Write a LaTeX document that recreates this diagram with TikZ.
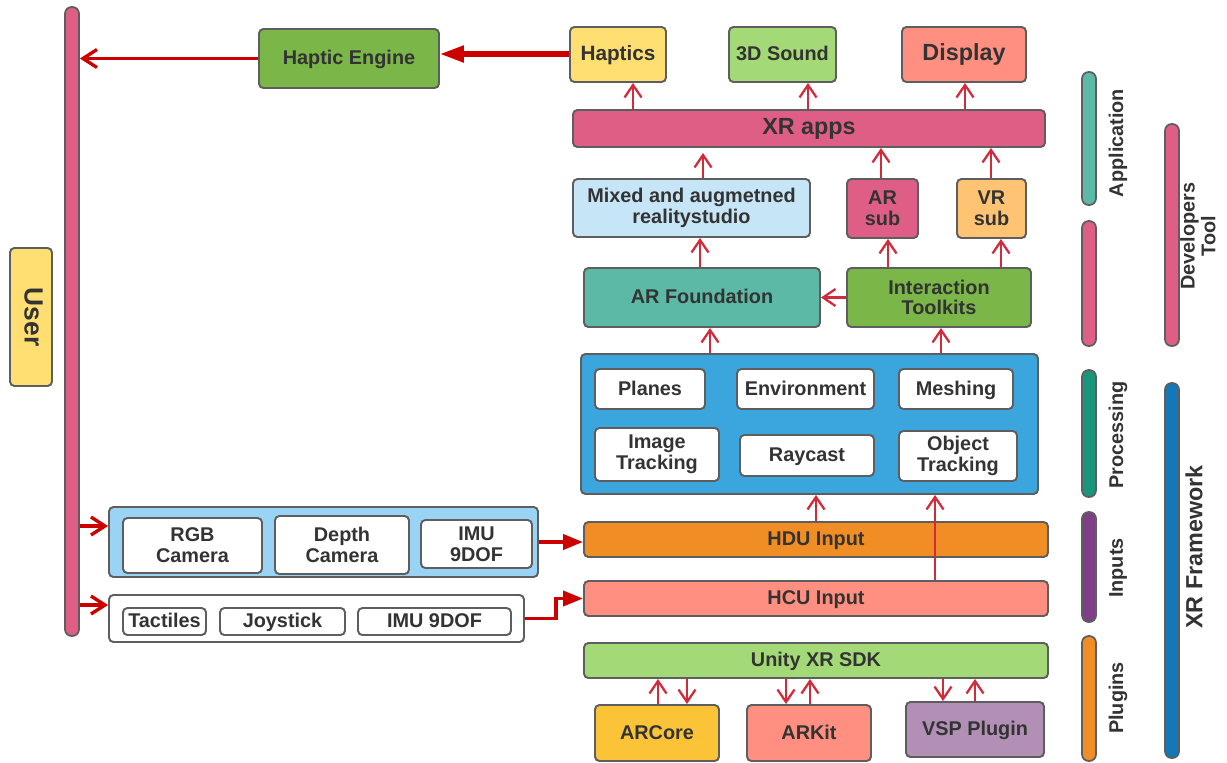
\documentclass[tikz,border=0pt]{standalone}
\usepackage{fontspec}
\setmainfont{Liberation Sans}
\usepackage{tikz}
\usetikzlibrary{positioning, arrows.meta, calc}

\definecolor{edgegrey}{HTML}{5E5E5E}
\definecolor{textgrey}{HTML}{333333}
\definecolor{flowred}{HTML}{D22C3C}
\definecolor{feedred}{HTML}{CC0000}
\definecolor{xrpink}{HTML}{DF5E85}
\definecolor{hapyellow}{HTML}{FFDF71}
\definecolor{soundgreen}{HTML}{A3D977}
\definecolor{salmon}{HTML}{FF8F80}
\definecolor{mixblue}{HTML}{C6E5F7}
\definecolor{vrorange}{HTML}{FFC374}
\definecolor{arteal}{HTML}{5CB9A6}
\definecolor{kitgreen}{HTML}{7AB648}
\definecolor{procblue}{HTML}{3AA6DD}
\definecolor{hduorange}{HTML}{F08D25}
\definecolor{coreyellow}{HTML}{FBC337}
\definecolor{vsppurple}{HTML}{B290B6}
\definecolor{sensorsky}{HTML}{9AD3F3}
\definecolor{procteal}{HTML}{19957A}
\definecolor{inpurple}{HTML}{7E3F86}
\definecolor{xrblue}{HTML}{1478B8}

\newcommand{\normalpx}{\bfseries\fontsize{11.3}{11.8}\selectfont}
\newcommand{\bigpx}{\bfseries\fontsize{13.3}{14}\selectfont}

\begin{document}
\begin{tikzpicture}[x=0.02cm, y=-0.02cm,
  box/.style={draw=edgegrey, line width=1.1pt, rounded corners=2.5pt, inner sep=0pt,
    align=center, text=textgrey, font=\normalpx},
  one/.style={text height=0.72em, text depth=0pt},
  wh/.style 2 args={minimum width=#1*0.02cm, minimum height=#2*0.02cm},
  rail/.style={draw=edgegrey, line width=1pt, rounded corners=3.8pt, inner sep=0pt},
  tag/.style={text=textgrey, font=\normalpx, align=center, inner sep=0pt},
  flow/.style={draw=flowred, line width=1.3pt, -{Straight Barb[length=0.25cm, width=0.34cm]}},
  feed/.style={draw=feedred, line width=2.2pt, -{Triangle[length=0.4cm, width=0.3cm]}},
  userfeed/.style={draw=feedred, line width=1.9pt, -{Straight Barb[length=0.28cm, width=0.36cm]}}]
  \useasboundingbox (0,0) rectangle (1227,762);

  % user side
  \node[rail, fill=xrpink, wh={14}{629}] (user-bar) at (72,321.5) {};
  \node[box, one, fill=hapyellow, rotate=-90, wh={138}{42}, font=\bfseries\fontsize{15}{16}\selectfont] (user) at (31,317) {User};
  \node[box, one, fill=kitgreen, wh={180}{59}] (haptic-engine) at (349,58.5) {Haptic Engine};

  \node[box, fill=sensorsky, wh={429}{70}] (sensor) at (323.5,542) {};
  \node[box, fill=white, wh={139}{55}] (rgb) at (192.5,545.5) {RGB\\Camera};
  \node[box, fill=white, wh={134}{58}] (depth) at (342,545) {Depth\\Camera};
  \node[box, fill=white, wh={111}{48}] (imu) at (476.5,544) {IMU\\9DOF};

  \node[box, fill=white, wh={415}{47}] (controller) at (316.5,618.5) {};
  \node[box, one, fill=white, wh={83}{27}] (tactiles) at (164.5,621.5) {Tactiles};
  \node[box, one, fill=white, wh={125}{27}] (joystick) at (282.5,621.5) {Joystick};
  \node[box, one, fill=white, wh={153}{27}] (imu-ctrl) at (434.5,621.5) {IMU 9DOF};

  % application layer
  \node[box, one, fill=hapyellow, wh={96}{55}, font=\bfseries\fontsize{11.8}{12}\selectfont] (haptics) at (618,54.5) {Haptics};
  \node[box, one, fill=soundgreen, wh={107}{55}] (sound) at (782.5,54.5) {3D Sound};
  \node[box, one, fill=salmon, wh={124}{55}, font=\bigpx] (display) at (964,54.5) {Display};
  \node[box, one, fill=xrpink, wh={472}{37}, font=\bigpx] (xr-apps) at (809,128.5) {XR apps};

  % developers tool layer
  \node[box, fill=mixblue, wh={237}{58}] (mixed) at (691.5,208) {Mixed and augmetned\\realitystudio};
  \node[box, fill=xrpink, wh={71}{59}] (ar-sub) at (882.5,208.5) {AR\\sub};
  \node[box, fill=vrorange, wh={69}{59}] (vr-sub) at (991.5,208.5) {VR\\sub};
  \node[box, one, fill=arteal, wh={236}{59}] (ar-foundation) at (702,297.5) {AR Foundation};
  \node[box, fill=kitgreen, wh={184}{59}] (interaction) at (939,297.5) {Interaction\\Toolkits};

  % processing
  \node[box, fill=procblue, wh={457}{140}] (processing) at (809.5,424) {};
  \node[box, one, fill=white, wh={110}{40}] (planes) at (650,389) {Planes};
  \node[box, one, fill=white, wh={137}{40}] (environment) at (805.5,389) {Environment};
  \node[box, one, fill=white, wh={114}{40}] (meshing) at (956,389) {Meshing};
  \node[box, fill=white, wh={124}{53}] (image-tracking) at (657,454.5) {Image\\Tracking};
  \node[box, one, fill=white, wh={134}{41}] (raycast) at (807,455.5) {Raycast};
  \node[box, fill=white, wh={118}{50}] (object-tracking) at (958,456) {Object\\Tracking};

  % inputs and plugins
  \node[box, one, fill=hduorange, wh={464}{35}] (hdu) at (816,539.5) {HDU Input};
  \node[box, one, fill=salmon, wh={464}{35}] (hcu) at (816,598.5) {HCU Input};
  \node[box, one, fill=soundgreen, wh={464}{35}] (unity) at (816,660.5) {Unity XR SDK};
  \node[box, one, fill=coreyellow, wh={124}{56}] (arcore) at (657,733) {ARCore};
  \node[box, one, fill=salmon, wh={124}{56}] (arkit) at (809,733) {ARKit};
  \node[box, one, fill=vsppurple, wh={138}{55}] (vsp) at (975,729.5) {VSP Plugin};

  % rails on the right
  \node[rail, fill=arteal, wh={14}{133}] (app-rail) at (1089,138.5) {};
  \node[rail, fill=xrpink, wh={14}{125}] (dev-rail) at (1089,283.5) {};
  \node[rail, fill=xrpink, wh={14}{222}] (devtool-rail) at (1172,235) {};
  \node[rail, fill=procteal, wh={14}{127}] (proc-rail) at (1089,433.5) {};
  \node[rail, fill=inpurple, wh={14}{110}] (input-rail) at (1089,567) {};
  \node[rail, fill=hduorange, wh={14}{125}] (plugin-rail) at (1089,698.5) {};
  \node[rail, fill=xrblue, wh={14}{375}] (xr-rail) at (1172,570.5) {};

  \node[tag, rotate=90] (app-tag) at (1118,143) {Application};
  \node[tag, rotate=90] (dev-tag) at (1198,236) {Developers\\Tool};
  \node[tag, rotate=90] (proc-tag) at (1118,435) {Processing};
  \node[tag, rotate=90] (input-tag) at (1118,568) {Inputs};
  \node[tag, rotate=90] (plugin-tag) at (1118,698) {Plugins};
  \node[tag, rotate=90, font=\bigpx] (xr-tag) at (1194,547) {XR Framework};

  % red feeds
  \draw[feed, line width=2.9pt, -{Triangle[length=0.48cm, width=0.32cm]}] (haptics.west |- 0,54) -- (haptic-engine.east |- 0,54);
  \draw[userfeed] (haptic-engine.west) -- (user-bar.east |- haptic-engine.west);
  \draw[userfeed] (user-bar.east |- 0,526) -- (sensor.west |- 0,526);
  \draw[userfeed] (user-bar.east |- 0,605) -- (controller.west |- 0,605);
  \draw[feed] (sensor.east |- 0,542) -- (hdu.west |- 0,542);
  \draw[feed] (controller.east) -- ++(31,0) |- (hcu.west);

  % flows
  \draw[flow] (xr-apps.north -| 633,0) -- (haptics.south -| 633,0);
  \draw[flow] (xr-apps.north -| 808,0) -- (sound.south -| 808,0);
  \draw[flow] (xr-apps.north -| 965,0) -- (display.south -| 965,0);
  \draw[flow, shorten >=0.1cm] (mixed.north -| 703,0) -- (xr-apps.south -| 703,0);
  \draw[flow] (ar-sub.north -| 881,0) -- (xr-apps.south -| 881,0);
  \draw[flow] (vr-sub.north -| 991,0) -- (xr-apps.south -| 991,0);
  \draw[flow] (ar-foundation.north -| 700,0) -- (mixed.south -| 700,0);
  \draw[flow] (interaction.north -| 888,0) -- (ar-sub.south -| 888,0);
  \draw[flow] (interaction.north -| 1001,0) -- (vr-sub.south -| 1001,0);
  \draw[flow] (interaction.west) -- (ar-foundation.east);
  \draw[flow] (processing.north -| 710,0) -- (ar-foundation.south -| 710,0);
  \draw[flow] (processing.north -| 941,0) -- (interaction.south -| 941,0);
  \draw[flow] (hdu.north -| 816,0) -- (processing.south -| 816,0);
  \draw[flow] (hcu.north -| 935,0) -- (processing.south -| 935,0);
  \draw[flow] (arcore.north -| 658,0) -- (unity.south -| 658,0);
  \draw[flow] (unity.south -| 687,0) -- (arcore.north -| 687,0);
  \draw[flow] (unity.south -| 786,0) -- (arkit.north -| 786,0);
  \draw[flow] (arkit.north -| 810,0) -- (unity.south -| 810,0);
  \draw[flow] (unity.south -| 943,0) -- (vsp.north -| 943,0);
  \draw[flow] (vsp.north -| 975,0) -- (unity.south -| 975,0);
\end{tikzpicture}
\end{document}
